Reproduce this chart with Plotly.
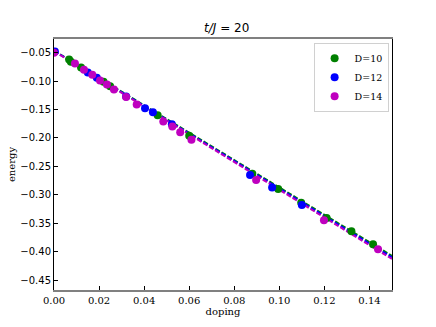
import plotly.graph_objects as go

# measured points (doping, energy) for each bond dimension
doping_D10 = [0.0067, 0.0075, 0.012, 0.022, 0.0249, 0.046, 0.060, 0.088, 0.0995, 0.1097, 0.121, 0.132, 0.1416]
energy_D10 = [-0.062, -0.066, -0.076, -0.101, -0.109, -0.160, -0.196, -0.263, -0.290, -0.314, -0.341, -0.364, -0.387]

doping_D12 = [0.0004, 0.015, 0.019, 0.032, 0.0404, 0.0439, 0.0523, 0.087, 0.0968, 0.110]
energy_D12 = [-0.048, -0.085, -0.094, -0.127, -0.148, -0.155, -0.176, -0.265, -0.287, -0.318]

doping_D14 = [0.0, 0.0093, 0.0133, 0.017, 0.0204, 0.0235, 0.0266, 0.032, 0.0367, 0.0485,
              0.0525, 0.056, 0.061, 0.0897, 0.1198, 0.1438]
energy_D14 = [-0.050, -0.069, -0.080, -0.089, -0.099, -0.106, -0.115, -0.128, -0.141, -0.171,
              -0.180, -0.190, -0.203, -0.274, -0.345, -0.396]

# linear fits drawn as dashed lines
fit_doping = [0.0, 0.15]
fit_D10 = [-0.0465, -0.4075]
fit_D12 = [-0.0470, -0.4100]
fit_D14 = [-0.0475, -0.4130]

series = [
    ("D=10", doping_D10, energy_D10, fit_D10, "green"),
    ("D=12", doping_D12, energy_D12, fit_D12, "blue"),
    ("D=14", doping_D14, energy_D14, fit_D14, "#bf00bf"),
]

fig = go.Figure()

for name, xs, ys, fit, color in series:
    fig.add_trace(
        go.Scatter(
            x=fit_doping, y=fit, mode="lines",
            line=dict(color=color, width=2, dash="5px,2px"),
            showlegend=False, hoverinfo="skip",
        )
    )

for name, xs, ys, fit, color in series:
    fig.add_trace(
        go.Scatter(
            x=xs, y=ys, mode="markers", name=name,
            marker=dict(color=color, size=8),
        )
    )

fig.update_layout(
    width=436,
    height=327,
    margin=dict(l=54, r=44, t=39, b=37),
    plot_bgcolor="white",
    paper_bgcolor="white",
    title=dict(
        text="<i>t/J</i> = 20",
        x=0.52, xanchor="center", y=0.915, yanchor="middle",
        font=dict(family="DejaVu Sans", size=12, color="black"),
    ),
    xaxis=dict(
        range=[0, 0.15],
        tickvals=[0, 0.02, 0.04, 0.06, 0.08, 0.10, 0.12, 0.14],
        tickformat=".2f",
        ticks="inside", ticklen=4, tickcolor="black",
        showgrid=False, zeroline=False, automargin=False,
        showline=True, linecolor="grey", linewidth=2, mirror=True,
        tickfont=dict(family="DejaVu Serif", size=10, color="black"),
        title=dict(text="doping", font=dict(family="DejaVu Serif", size=10, color="black"), standoff=2),
    ),
    yaxis=dict(
        range=[-0.4675, -0.026],
        tickvals=[-0.05, -0.10, -0.15, -0.20, -0.25, -0.30, -0.35, -0.40, -0.45],
        ticktext=["\u22120.05", "\u22120.10", "\u22120.15", "\u22120.20", "\u22120.25",
                  "\u22120.30", "\u22120.35", "\u22120.40", "\u22120.45"],
        ticks="inside", ticklen=4, tickcolor="black",
        showgrid=False, zeroline=False, automargin=False,
        showline=True, linecolor="black", linewidth=1, mirror=True,
        tickfont=dict(family="DejaVu Sans", size=10, color="black"),
        title=dict(text="energy", font=dict(family="DejaVu Serif", size=10, color="black"), standoff=2),
    ),
    legend=dict(
        x=0.99, xanchor="right", y=0.985, yanchor="top",
        bgcolor="white", bordercolor="#d0d0d0", borderwidth=1,
        font=dict(family="DejaVu Serif", size=9.5, color="black"),
        itemwidth=30, tracegroupgap=0,
    ),
)

# drop the browser's default body margin so the figure sits at the page origin
fig.write_html(
    "out.html",
    config={"displayModeBar": False},
    post_script="document.body.style.margin='0';",
)
